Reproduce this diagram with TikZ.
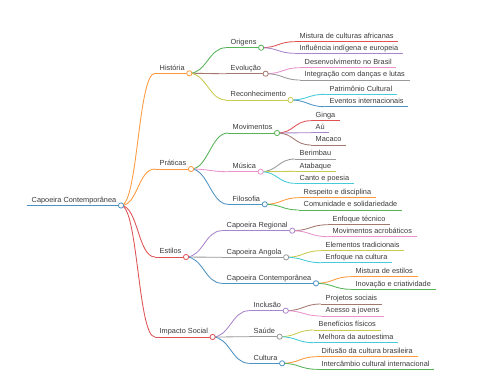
\documentclass[tikz,border=0pt]{standalone}
\usepackage{fontspec}
\setmainfont{Liberation Sans}
\usepackage{xcolor}
\definecolor{capBlue}{HTML}{4C92C3}
\definecolor{capOrange}{HTML}{FF993E}
\definecolor{capGreen}{HTML}{56B356}
\definecolor{capRed}{HTML}{DE5253}
\definecolor{capPurple}{HTML}{A985CA}
\definecolor{capBrown}{HTML}{A3786F}
\definecolor{capPink}{HTML}{E992CE}
\definecolor{capGray}{HTML}{999999}
\definecolor{capOlive}{HTML}{C9CA4E}
\definecolor{capCyan}{HTML}{45CBD9}
\definecolor{capInk}{HTML}{3A3A3A}
\newcommand{\capFont}{\fontsize{7.35}{8}\selectfont}
\newcommand{\capBar}[2]{\draw[#1, line width=0.85pt] (#2.south west) -- (#2.south east);}
\newcommand{\capLink}[3]{\draw[#1, line width=0.85pt] (#2.south east) .. controls +(17,0) and +(-17,0) .. (#3.south west);}
\newcommand{\capKnob}[2]{\draw[#1, fill=white, line width=0.8pt] (#2.south east) circle[radius=2.6pt];}

\begin{document}
\begin{tikzpicture}[x=1pt,y=-1pt]
\tikzset{capTopic/.style={anchor=south west, inner xsep=4.5pt, inner ysep=3pt, text depth=0pt, font=\capFont, text=capInk}}
\useasboundingbox[fill=white] (0,0) rectangle (480,384);
\node[capTopic] (root) at (27,205.5) {Capoeira Contemporânea};
\node[capTopic] (hist) at (155,73.3) {História};
\node[capTopic] (prat) at (155,169) {Práticas};
\node[capTopic] (esti) at (155,257) {Estilos};
\node[capTopic] (impa) at (155,337) {Impacto Social};
\node[capTopic] (orig) at (226,47.7) {Origens};
\node[capTopic] (evol) at (226,73.7) {Evolução};
\node[capTopic] (reco) at (226,100) {Reconhecimento};
\node[capTopic] (movi) at (228,133) {Movimentos};
\node[capTopic] (musi) at (228,171.7) {Música};
\node[capTopic] (filo) at (228,204.3) {Filosofia};
\node[capTopic] (regi) at (222,230.7) {Capoeira Regional};
\node[capTopic] (ango) at (222,257.3) {Capoeira Angola};
\node[capTopic] (cont) at (222,283.3) {Capoeira Contemporânea};
\node[capTopic] (incl) at (249,310.7) {Inclusão};
\node[capTopic] (saud) at (249,336.7) {Saúde};
\node[capTopic] (cult) at (249,363.3) {Cultura};
\node[capTopic] (afri) at (295,41.7) {Mistura de culturas africanas};
\node[capTopic] (indi) at (295,53.3) {Influência indígena e europeia};
\node[capTopic] (dese) at (300,67.7) {Desenvolvimento no Brasil};
\node[capTopic] (inte) at (300,80) {Integração com danças e lutas};
\node[capTopic] (patr) at (325,94.3) {Patrimônio Cultural};
\node[capTopic] (even) at (325,106.7) {Eventos internacionais};
\node[capTopic] (ging) at (311,120.7) {Ginga};
\node[capTopic] (au) at (311,132.7) {Aú};
\node[capTopic] (maca) at (311,145) {Macaco};
\node[capTopic] (beri) at (295,159) {Berimbau};
\node[capTopic] (atab) at (295,171.3) {Atabaque};
\node[capTopic] (cant) at (295,183.3) {Canto e poesia};
\node[capTopic] (resp) at (299,197.7) {Respeito e disciplina};
\node[capTopic] (comu) at (299,210) {Comunidade e solidariedade};
\node[capTopic] (tecn) at (328,224.7) {Enfoque técnico};
\node[capTopic] (acro) at (328,236.7) {Movimentos acrobáticos};
\node[capTopic] (trad) at (321,250.7) {Elementos tradicionais};
\node[capTopic] (enfc) at (321,262.7) {Enfoque na cultura};
\node[capTopic] (mest) at (351,276.7) {Mistura de estilos};
\node[capTopic] (inov) at (351,289.3) {Inovação e criatividade};
\node[capTopic] (proj) at (321,304) {Projetos sociais};
\node[capTopic] (aces) at (321,316) {Acesso a jovens};
\node[capTopic] (bene) at (314,330) {Benefícios físicos};
\node[capTopic] (melh) at (314,342.7) {Melhora da autoestima};
\node[capTopic] (difu) at (317,356.7) {Difusão da cultura brasileira};
\node[capTopic] (troc) at (317,369.3) {Intercâmbio cultural internacional};
\capBar{capBlue}{root}
\capLink{capOrange}{root}{hist} \capBar{capOrange}{hist}
\capLink{capOrange}{root}{prat} \capBar{capOrange}{prat}
\capLink{capRed}{root}{esti} \capBar{capRed}{esti}
\capLink{capRed}{root}{impa} \capBar{capRed}{impa}
\capLink{capGreen}{hist}{orig} \capBar{capGreen}{orig}
\capLink{capBrown}{hist}{evol} \capBar{capBrown}{evol}
\capLink{capOlive}{hist}{reco} \capBar{capOlive}{reco}
\capLink{capGreen}{prat}{movi} \capBar{capGreen}{movi}
\capLink{capPink}{prat}{musi} \capBar{capPink}{musi}
\capLink{capBlue}{prat}{filo} \capBar{capBlue}{filo}
\capLink{capPurple}{esti}{regi} \capBar{capPurple}{regi}
\capLink{capGray}{esti}{ango} \capBar{capGray}{ango}
\capLink{capBlue}{esti}{cont} \capBar{capBlue}{cont}
\capLink{capPurple}{impa}{incl} \capBar{capPurple}{incl}
\capLink{capGray}{impa}{saud} \capBar{capGray}{saud}
\capLink{capBlue}{impa}{cult} \capBar{capBlue}{cult}
\capLink{capRed}{orig}{afri} \capBar{capRed}{afri}
\capLink{capPurple}{orig}{indi} \capBar{capPurple}{indi}
\capLink{capPink}{evol}{dese} \capBar{capPink}{dese}
\capLink{capGray}{evol}{inte} \capBar{capGray}{inte}
\capLink{capCyan}{reco}{patr} \capBar{capCyan}{patr}
\capLink{capBlue}{reco}{even} \capBar{capBlue}{even}
\capLink{capRed}{movi}{ging} \capBar{capRed}{ging}
\capLink{capPurple}{movi}{au} \capBar{capPurple}{au}
\capLink{capBrown}{movi}{maca} \capBar{capBrown}{maca}
\capLink{capGray}{musi}{beri} \capBar{capGray}{beri}
\capLink{capOlive}{musi}{atab} \capBar{capOlive}{atab}
\capLink{capCyan}{musi}{cant} \capBar{capCyan}{cant}
\capLink{capOrange}{filo}{resp} \capBar{capOrange}{resp}
\capLink{capGreen}{filo}{comu} \capBar{capGreen}{comu}
\capLink{capBrown}{regi}{tecn} \capBar{capBrown}{tecn}
\capLink{capPink}{regi}{acro} \capBar{capPink}{acro}
\capLink{capOlive}{ango}{trad} \capBar{capOlive}{trad}
\capLink{capCyan}{ango}{enfc} \capBar{capCyan}{enfc}
\capLink{capOrange}{cont}{mest} \capBar{capOrange}{mest}
\capLink{capGreen}{cont}{inov} \capBar{capGreen}{inov}
\capLink{capBrown}{incl}{proj} \capBar{capBrown}{proj}
\capLink{capPink}{incl}{aces} \capBar{capPink}{aces}
\capLink{capOlive}{saud}{bene} \capBar{capOlive}{bene}
\capLink{capCyan}{saud}{melh} \capBar{capCyan}{melh}
\capLink{capOrange}{cult}{difu} \capBar{capOrange}{difu}
\capLink{capGreen}{cult}{troc} \capBar{capGreen}{troc}
\capKnob{capBlue}{root}
\capKnob{capOrange}{hist}
\capKnob{capOrange}{prat}
\capKnob{capRed}{esti}
\capKnob{capRed}{impa}
\capKnob{capGreen}{orig}
\capKnob{capBrown}{evol}
\capKnob{capOlive}{reco}
\capKnob{capGreen}{movi}
\capKnob{capPink}{musi}
\capKnob{capBlue}{filo}
\capKnob{capPurple}{regi}
\capKnob{capGray}{ango}
\capKnob{capBlue}{cont}
\capKnob{capPurple}{incl}
\capKnob{capGray}{saud}
\capKnob{capBlue}{cult}
\end{tikzpicture}
\end{document}
